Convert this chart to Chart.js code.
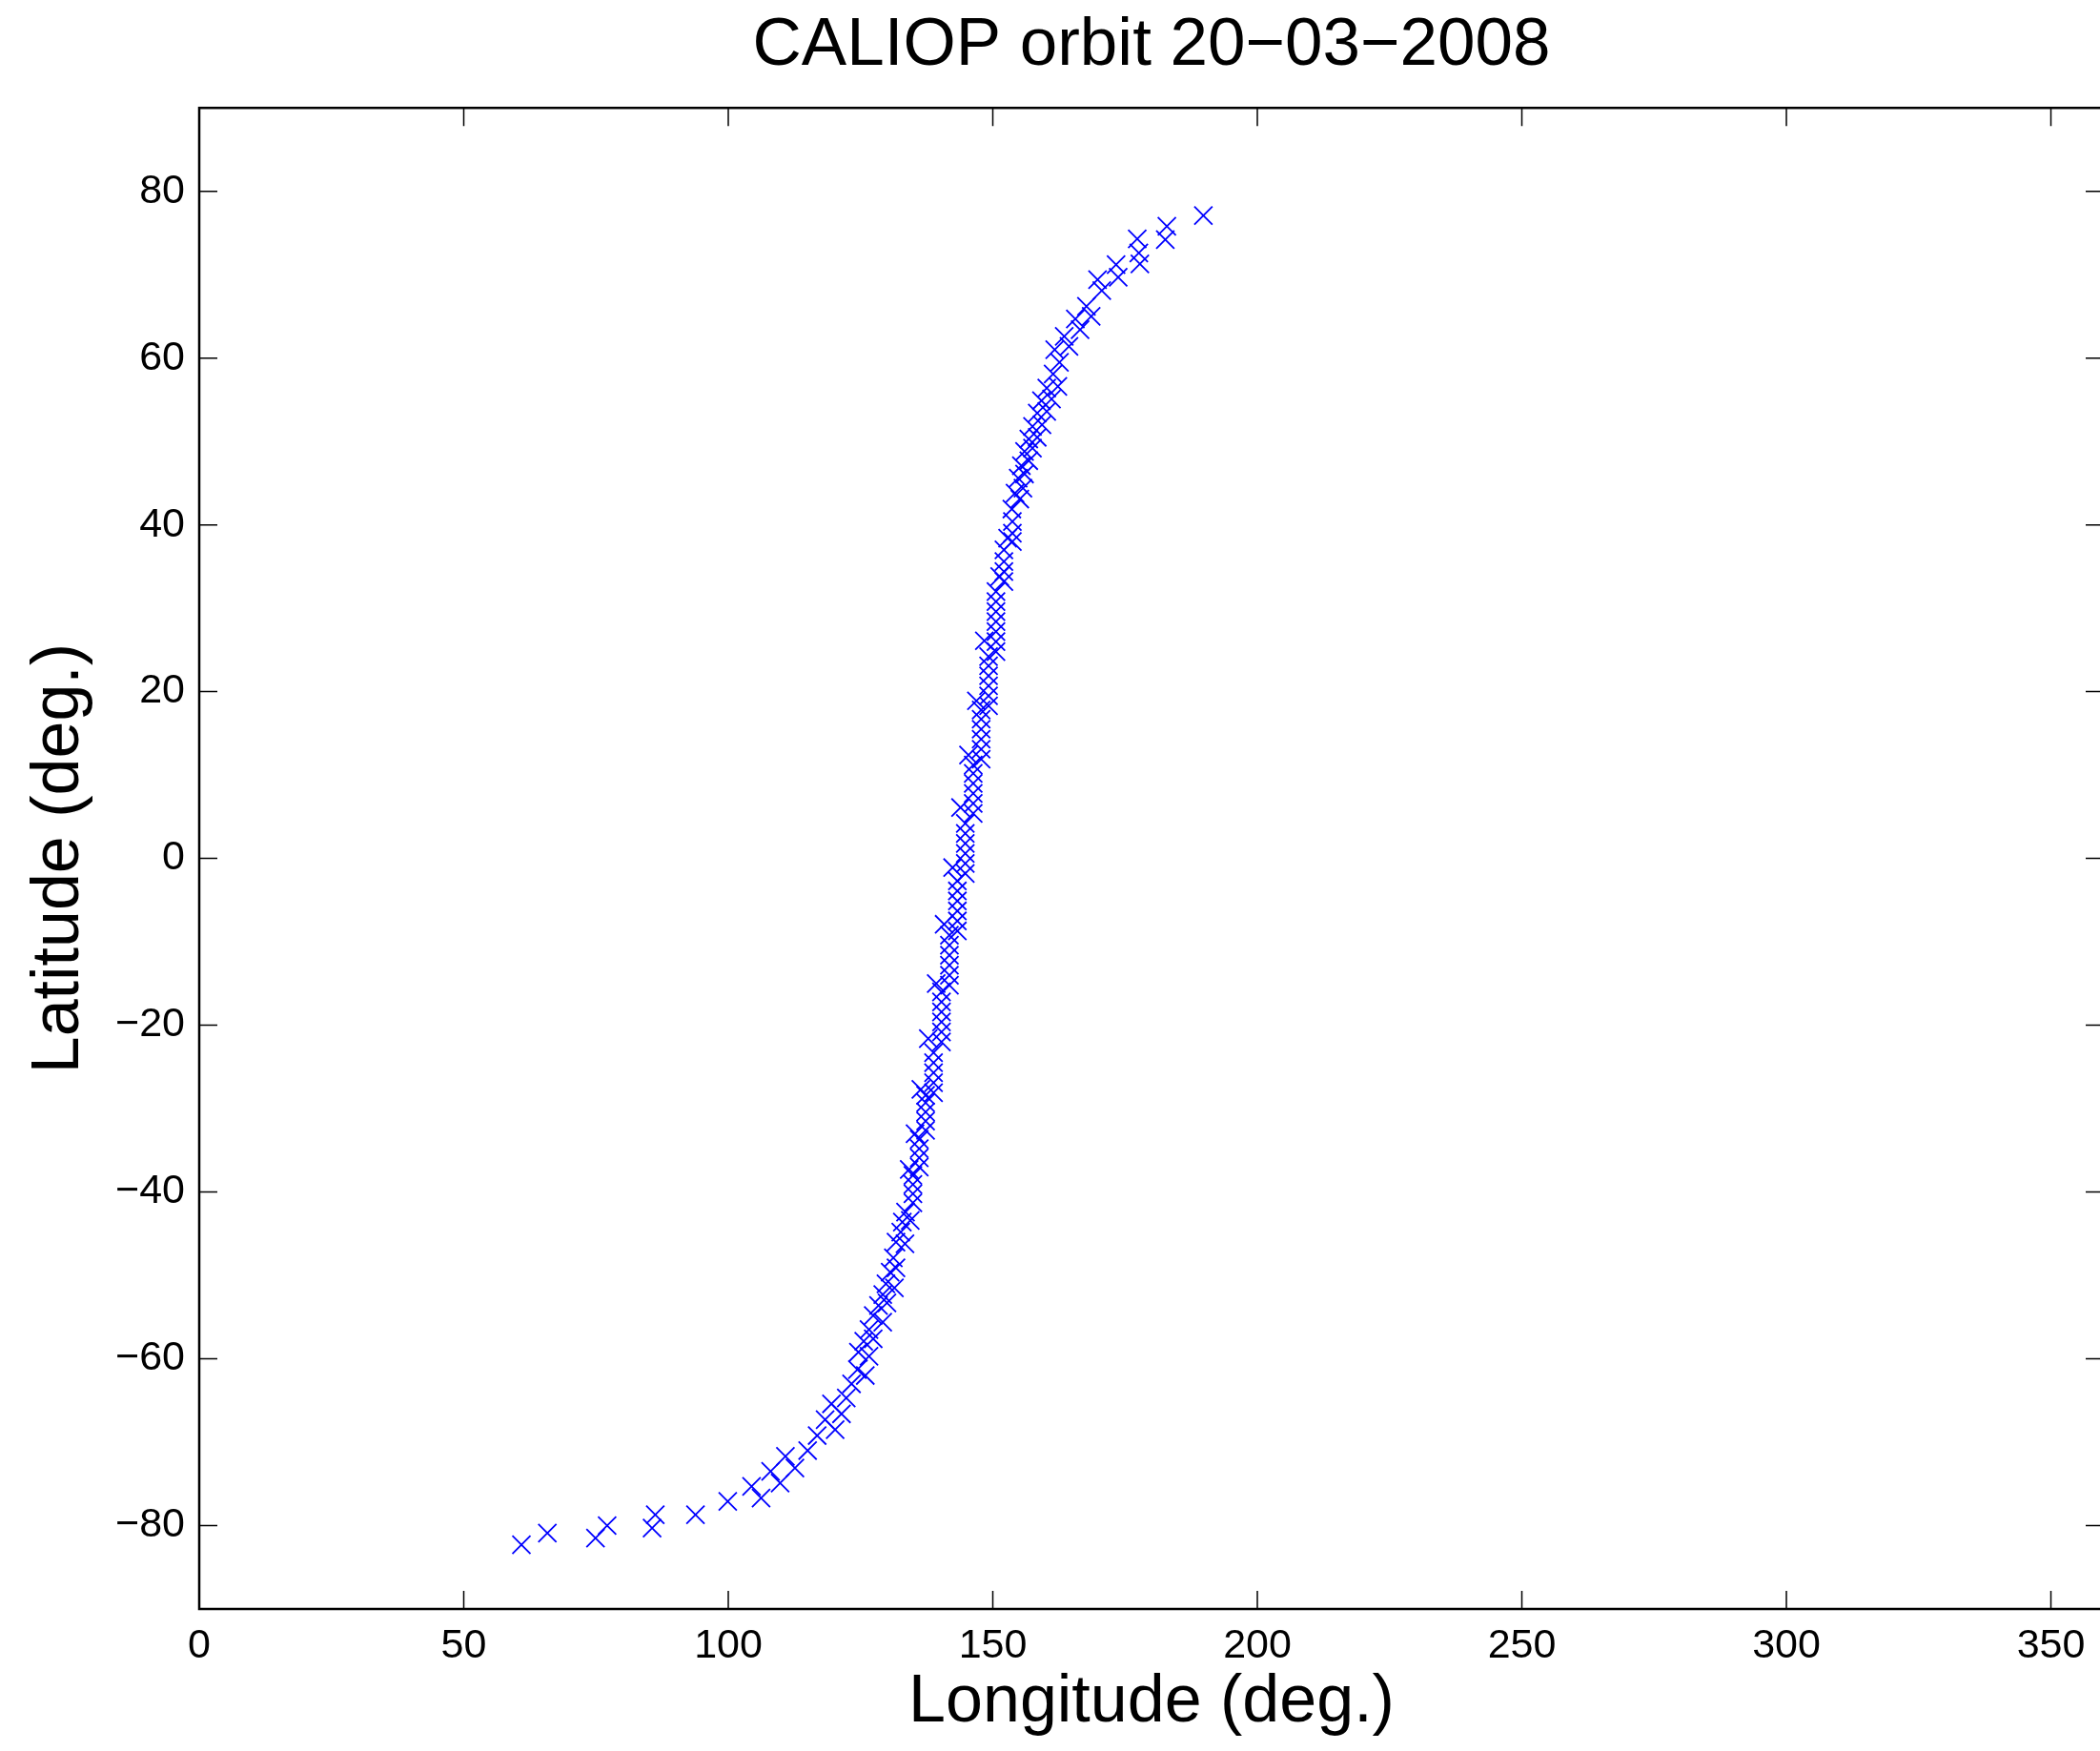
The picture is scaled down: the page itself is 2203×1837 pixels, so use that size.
<!DOCTYPE html>
<html>
<head>
<meta charset="utf-8">
<title>CALIOP orbit</title>
<script src="https://cdn.jsdelivr.net/npm/chart.js@4.4.1/dist/chart.umd.min.js"></script>
<style>
  html, body { margin: 0; padding: 0; overflow: hidden; background: #fff; }
  #wrap { width: 2203px; height: 1837px; }
</style>
</head>
<body>
<div id="wrap"><canvas id="orbit" width="2203" height="1837"></canvas></div>
<script>
// axis ticks
const lonTicks = [0, 50, 100, 150, 200, 250, 300, 350];
const latTicks = [-80, -60, -40, -20, 0, 20, 40, 60, 80];

// track points [longitude, latitude], south to north
const southTail = [
  [60.9, -82.3], [65.8, -80.9], [74.9, -81.5], [77.1, -80.0], [85.6, -80.3],
  [86.2, -78.7], [93.8, -78.7], [99.9, -77.1], [104.4, -75.3], [106.2, -76.7],
  [108.0, -73.5], [109.8, -74.9], [110.8, -71.7], [112.6, -73.1], [115.0, -71.0],
  [116.8, -69.2], [118.3, -67.3], [120.2, -68.5], [119.5, -65.4], [121.4, -66.6],
  [122.3, -64.7]
];
const lowerTrack = [
  [123.3, -63.0], [125.9, -62.0], [124.4, -61.3], [126.6, -59.7], [124.6, -59.2],
  [125.6, -57.9], [127.4, -57.6], [126.6, -56.5], [129.2, -55.6], [127.4, -54.8],
  [128.4, -53.6], [130.0, -53.3], [129.2, -52.3], [131.4, -51.5], [129.8, -51.0],
  [130.6, -49.6], [131.7, -49.1], [131.2, -47.9], [133.4, -46.2], [131.7, -46.0],
  [132.6, -44.8], [132.9, -43.6], [134.4, -43.4], [133.5, -42.4]
];
const middleTrack = [
  [134.9, -41.3], [134.9, -40.2], [134.9, -39.1], [134.9, -38.0], [134.2, -37.3],
  [136.1, -37.0], [136.1, -35.9], [136.1, -34.8], [136.1, -33.7], [135.3, -33.0],
  [137.3, -32.6], [137.3, -31.5], [137.3, -30.4], [137.3, -29.3], [137.3, -28.4], [136.4, -27.7],
  [138.8, -28.1], [138.8, -26.9], [138.8, -25.7], [138.8, -24.5], [138.8, -23.3], [137.8, -21.6],
  [140.3, -22.0], [140.3, -20.8], [140.3, -19.6], [140.3, -18.4], [140.3, -17.2], [140.3, -16.0], [139.3, -15.0],
  [141.8, -15.2], [141.8, -14.0], [141.8, -12.8], [141.8, -11.6], [141.8, -10.4], [141.8, -9.2], [140.8, -7.9],
  [143.3, -8.7], [143.3, -7.5], [143.3, -6.3], [143.3, -5.1], [143.3, -3.9], [143.3, -2.7], [142.4, -1.1],
  [144.8, -1.8], [144.8, -0.6], [144.8, 0.6], [144.8, 1.8], [144.8, 3.0], [144.8, 4.2], [143.9, 6.1],
  [146.3, 5.4], [146.3, 6.6], [146.3, 7.8], [146.3, 9.0], [146.3, 10.2], [146.3, 11.2], [145.4, 12.4],
  [147.8, 11.9], [147.8, 13.1], [147.8, 14.3], [147.8, 15.5], [147.8, 16.7], [147.8, 17.8], [146.9, 18.9],
  [149.2, 18.3], [149.2, 19.5], [149.2, 20.7], [149.2, 21.9], [149.2, 23.1], [149.2, 24.2], [148.4, 26.1],
  [150.6, 24.8], [150.6, 26.0], [150.6, 27.2], [150.6, 28.4], [150.6, 29.6], [150.6, 30.8], [150.6, 32.0],
  [152.1, 33.2], [152.1, 34.4], [152.1, 35.6], [152.1, 37.0], [151.3, 33.8],
  [153.7, 38.0], [153.7, 39.0], [153.7, 40.4], [152.8, 38.4]
];
const upperTrack = [
  [153.6, 41.9], [155.1, 43.1], [154.2, 43.8], [155.7, 44.4], [154.8, 45.6],
  [156.0, 46.1], [155.4, 47.1], [156.8, 47.7], [156.0, 48.8], [157.5, 49.2],
  [156.8, 50.3], [158.4, 50.5], [157.5, 51.8], [159.3, 52.0], [158.4, 53.4],
  [160.2, 53.6], [159.2, 54.9], [161.1, 55.1], [160.2, 56.4], [162.3, 56.6],
  [161.4, 58.1], [162.6, 59.5], [161.7, 61.0], [164.4, 61.4], [163.5, 62.6],
  [166.5, 63.4], [165.6, 64.7], [168.6, 65.0], [167.7, 66.2]
];
const northTail = [
  [170.6, 68.1], [169.8, 69.4], [173.7, 69.7], [173.3, 71.2], [177.8, 71.3],
  [177.6, 72.6], [177.3, 74.3], [182.6, 74.2], [182.9, 75.8], [189.8, 77.1]
];

const track = [...southTail, ...lowerTrack, ...middleTrack, ...upperTrack, ...northTail]
  .map(([lon, lat]) => ({ x: lon, y: lat }));

const fontFamily = '"Liberation Sans", Arial, Helvetica, sans-serif';
Chart.defaults.font.family = fontFamily;
Chart.defaults.color = '#000';

const minus = v => (v < 0 ? '\u2212' + Math.abs(v) : String(v));

// the axes box runs a few px past the right edge of the page, like the original figure
const plotRight = 2207;
const stretchRight = {
  id: 'stretchRight',
  afterLayout(chart) {
    const area = chart.chartArea;
    area.right = plotRight;
    area.width = plotRight - area.left;
    const x = chart.scales.x;
    x.right = plotRight;
    x.width = plotRight - x.left;
    x.configure();
    if (chart.titleBlock) {
      chart.titleBlock.left = area.left;
      chart.titleBlock.right = plotRight;
      chart.titleBlock.width = area.width;
    }
  }
};

// matlab style box with inward ticks on all four sides
const tickLen = 19;
const boxAxes = {
  id: 'boxAxes',
  afterDatasetsDraw(chart) {
    const { ctx, chartArea: a, scales: { x, y } } = chart;
    ctx.save();
    ctx.strokeStyle = '#000';
    ctx.lineWidth = 1.5;
    ctx.beginPath();
    lonTicks.forEach(v => {
      const px = x.getPixelForValue(v);
      ctx.moveTo(px, a.bottom); ctx.lineTo(px, a.bottom - tickLen);
      ctx.moveTo(px, a.top); ctx.lineTo(px, a.top + tickLen);
    });
    latTicks.forEach(v => {
      const py = y.getPixelForValue(v);
      ctx.moveTo(a.left, py); ctx.lineTo(a.left + tickLen, py);
      ctx.moveTo(a.right, py); ctx.lineTo(a.right - tickLen, py);
    });
    ctx.stroke();
    ctx.lineWidth = 2.5;
    ctx.strokeRect(a.left, a.top, a.right - a.left, a.bottom - a.top);
    ctx.restore();
  }
};

new Chart(document.getElementById('orbit'), {
  type: 'scatter',
  data: {
    datasets: [{
      data: track,
      pointStyle: 'crossRot',
      pointRadius: 13.4,
      pointHoverRadius: 13.4,
      borderColor: '#0000ff',
      backgroundColor: '#0000ff',
      pointBorderWidth: 1.8,
      showLine: false,
      clip: false
    }]
  },
  options: {
    responsive: false,
    animation: false,
    plugins: {
      legend: { display: false },
      tooltip: { enabled: false },
      title: {
        display: true,
        fullSize: false,
        text: 'CALIOP orbit 20\u221203\u22122008',
        color: '#000',
        font: { size: 71, weight: 'normal' },
        padding: { top: 6, bottom: 22 }
      }
    },
    scales: {
      x: {
        type: 'linear',
        position: 'bottom',
        min: 0,
        max: 360,
        afterBuildTicks: s => { s.ticks = lonTicks.map(v => ({ value: v })); },
        afterFit: s => { s.height = 149; },
        grid: { display: false, drawTicks: false },
        border: { display: false },
        ticks: { padding: 13, maxRotation: 0, autoSkip: false, color: '#000', font: { size: 43 }, callback: minus },
        title: {
          display: true,
          text: 'Longitude (deg.)',
          color: '#000',
          font: { size: 70 },
          padding: { top: 0, bottom: 8 }
        }
      },
      y: {
        type: 'linear',
        position: 'left',
        min: -90,
        max: 90,
        afterBuildTicks: s => { s.ticks = latTicks.map(v => ({ value: v })); },
        afterFit: s => { s.width = 209; },
        grid: { display: false, drawTicks: false },
        border: { display: false },
        ticks: { padding: 15, autoSkip: false, color: '#000', font: { size: 43 }, callback: minus },
        title: {
          display: true,
          text: 'Latitude (deg.)',
          color: '#000',
          font: { size: 70 },
          padding: { top: 21, bottom: 0 }
        }
      }
    }
  },
  plugins: [stretchRight, boxAxes]
});
</script>
</body>
</html>
